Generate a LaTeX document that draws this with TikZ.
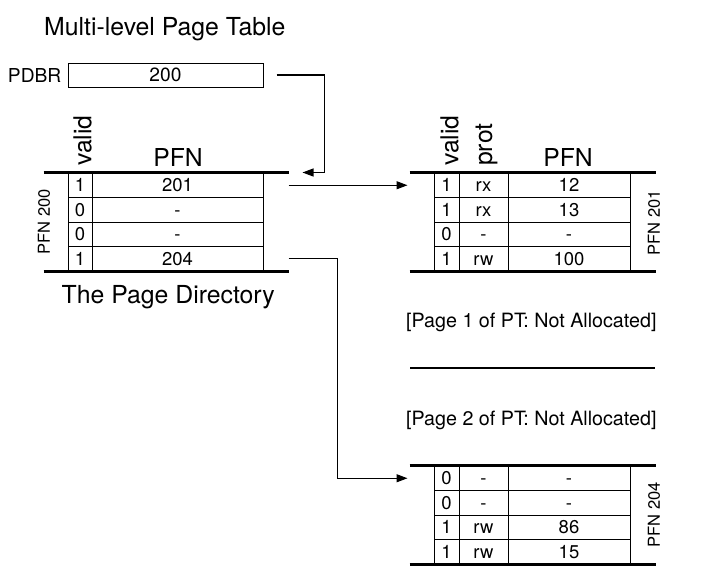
\documentclass[tikz,border=0pt]{standalone}
\usepackage{fontspec}
\setmainfont{TeX Gyre Heros}
\usetikzlibrary{arrows.meta, positioning}

\begin{document}
\begin{tikzpicture}[x=1pt, y=-1pt,
  box/.style={draw, line width=1pt, inner sep=0pt, minimum height=24.5pt, text height=13.3pt, text depth=0pt, font=\fontsize{18.5}{20}\selectfont},
  hdr/.style={inner sep=0pt, font=\fontsize{24.7}{28}\selectfont},
  vhdr/.style={hdr, rotate=90, anchor=west},
  side/.style={inner sep=0pt, rotate=90, font=\fontsize{16.5}{18}\selectfont},
  heading/.style={inner sep=0pt, anchor=base west, font=\fontsize{24.8}{28}\selectfont},
  note/.style={inner sep=0pt, anchor=base west, font=\fontsize{19.7}{22}\selectfont},
  rule/.style={line width=2.5pt},
  link/.style={line width=1.2pt, -{Triangle[length=11pt, width=8pt]}},
]
\useasboundingbox (0,0) rectangle (702,587);

\node[heading] (title) at (44,35) {Multi-level Page Table};
\node[box, minimum width=195pt, minimum height=24pt, font=\fontsize{19.2}{22}\selectfont] (pdbr) at (165.5,75) {200};
\node[inner sep=0pt, left=6pt of pdbr, font=\fontsize{19.2}{22}\selectfont] (pdbrl) {PDBR};

\node[vhdr] (dvh) at (82.5,166) {valid};
\node[hdr, anchor=base] (dph) at (178,166) {PFN};
\foreach \v/\p [count=\i] in {1/201, 0/-, 0/-, 1/204} {
  \node[box, minimum width=24pt] (dv\i) at (80,160.75+24.5*\i) {\v};
  \node[box, minimum width=171pt] (dp\i) at (177.5,160.75+24.5*\i) {\p};
}
\coordinate (pdtop) at ([xshift=25pt]dp1.north east);
\draw[rule] ([xshift=-24pt]dv1.north west) -- (pdtop);
\draw[rule] ([xshift=-24pt]dv4.south west) -- ([xshift=25pt]dp4.south east);
\node[side] (pfn200) at (44,222) {PFN 200};
\node[heading] (pdname) at (61.5,303) {The Page Directory};

\node[vhdr] (avh) at (449.5,166) {valid};
\node[vhdr] (aph) at (486.5,166) {prot};
\node[hdr, anchor=base] (afh) at (568,166) {PFN};
\foreach \v/\r/\p [count=\i] in {1/rx/12, 1/rx/13, 0/-/-, 1/rw/100} {
  \node[box, minimum width=25pt] (av\i) at (446.5,160.75+24.5*\i) {\v};
  \node[box, minimum width=49pt] (ar\i) at (483.5,160.75+24.5*\i) {\r};
  \node[box, minimum width=122pt] (af\i) at (569,160.75+24.5*\i) {\p};
}
\draw[rule] ([xshift=-24pt]av1.north west) -- ([xshift=25pt]af1.north east);
\draw[rule] ([xshift=-24pt]av4.south west) -- ([xshift=25pt]af4.south east);
\node[side] (pfn201) at (654,223) {PFN 201};

\node[note] (gap1) at (406,327) {[Page 1 of PT: Not Allocated]};
\draw[rule] (410,368) -- (655,368);
\node[note] (gap2) at (406,425) {[Page 2 of PT: Not Allocated]};

\foreach \v/\r/\p [count=\i] in {0/-/-, 0/-/-, 1/rw/86, 1/rw/15} {
  \node[box, minimum width=25pt] (bv\i) at (446.5,453.75+24.5*\i) {\v};
  \node[box, minimum width=49pt] (br\i) at (483.5,453.75+24.5*\i) {\r};
  \node[box, minimum width=122pt] (bf\i) at (569,453.75+24.5*\i) {\p};
}
\draw[rule] ([xshift=-24pt]bv1.north west) -- ([xshift=25pt]bf1.north east);
\draw[rule] ([xshift=-24pt]bv4.south west) -- ([xshift=25pt]bf4.south east);
\node[side] (pfn204) at (654,515) {PFN 204};

\draw[link] ([xshift=13pt]pdbr.east) -| ([xshift=36pt]pdtop) -- ([xshift=14pt]pdtop);
\draw[link] ([xshift=25pt]dp1.east) -- ([xshift=-26pt]av1.west);
\draw[link] ([xshift=25pt]dp4.east) -- ++(49,0) |- ([xshift=-26pt]bv1.west);
\end{tikzpicture}
\end{document}
